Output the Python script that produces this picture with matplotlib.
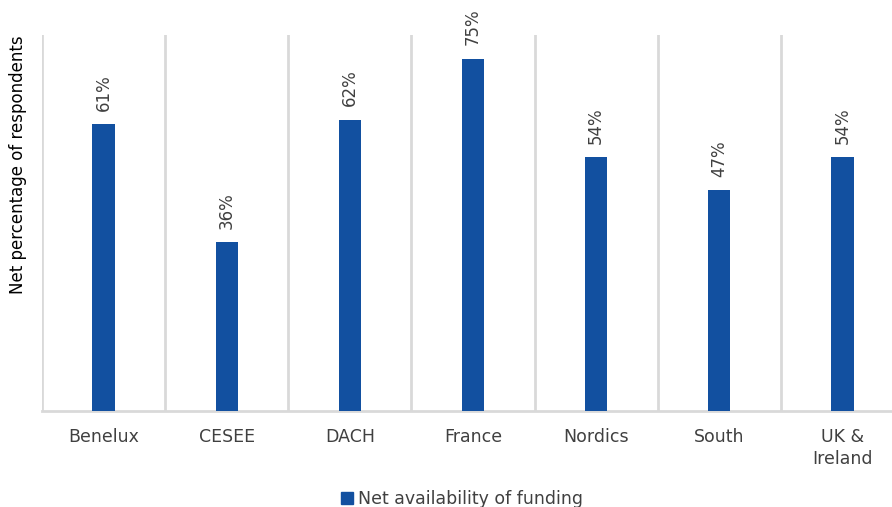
import matplotlib.pyplot as plt
import numpy as np

# Data
regions = ['Benelux', 'CESEE', 'DACH', 'France', 'Nordics', 'South', 'UK &\nIreland']
net_funding = [61, 36, 62, 75, 54, 47, 54]

bar_color = '#1250A0'
grid_color = '#D9D9D9'
text_color = '#404040'

fig = plt.figure(figsize=(8.92, 5.07), dpi=100)
# axes runs past the right edge, like the cropped original
ax = fig.add_axes([42/892, 96/507, 862/892, 376/507])

x = np.arange(len(regions))
ax.bar(x, net_funding, width=0.18, color=bar_color, zorder=3)

for xi, v in zip(x, net_funding):
    ax.text(xi, v + 2.8, f'{v}%', rotation=90, ha='center', va='bottom',
            fontsize=12, color=text_color)

ax.set_xlim(-0.5, len(regions) - 0.5)
ax.set_ylim(0, 80)

# category separators
ax.set_xticks(x)
ax.set_xticklabels(regions, fontsize=12.5, color=text_color, linespacing=1.3)
ax.set_xticks(np.arange(-0.5, len(regions)), minor=True)
ax.grid(which='minor', axis='x', color=grid_color, linewidth=2, zorder=0)
ax.tick_params(axis='x', which='both', length=0, pad=12)
ax.set_yticks([])

for s in ['top', 'right', 'left']:
    ax.spines[s].set_visible(False)
ax.spines['bottom'].set_color(grid_color)
ax.spines['bottom'].set_linewidth(2)

fig.text(18/892, 1 - 165/507, 'Net percentage of respondents', rotation=90,
         ha='center', va='center', fontsize=12, color='black')

handle = plt.Rectangle((0, 0), 1, 1, color=bar_color)
fig.legend([handle], ['Net availability of funding'], loc='center',
           bbox_to_anchor=(462/892, 1 - 499/507), frameon=False, fontsize=12.5,
           handlelength=0.7, handleheight=0.7, handletextpad=0.3,
           labelcolor=text_color)

plt.savefig('out.png', dpi=100)
plt.close()
